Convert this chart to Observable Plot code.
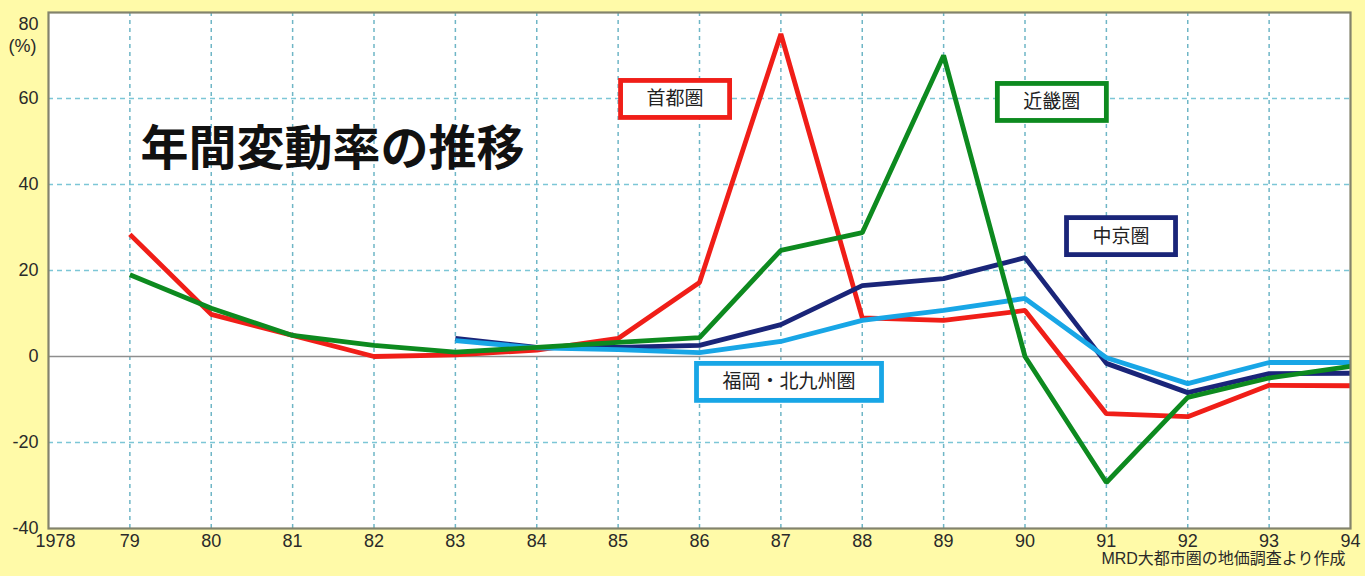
<!DOCTYPE html>
<html><head><meta charset="utf-8">
<script src="https://cdn.jsdelivr.net/npm/d3@7"></script>
<script src="https://cdn.jsdelivr.net/npm/@observablehq/plot@0.6"></script>
<style>
html,body{margin:0;padding:0;background:#fffaa8;}
#chart svg{display:block;}
</style></head><body><div id="chart"></div>
<script>
// ---- data ----
const years   = [1979,1980,1981,1982,1983,1984,1985,1986,1987,1988,1989,1990,1991,1992,1993,1994];
const shutoken = [28.4, 9.8, 4.9, 0.0, 0.4, 1.5, 4.2, 17.2, 75.0, 9.0, 8.4, 10.7, -13.3, -14.0, -6.7, -6.8];
const kinki    = [19.0, 11.2, 4.9, 2.6, 1.0, 2.1, 3.3, 4.4, 24.7, 28.8, 70.0, 0.0, -29.3, -9.5, -5.0, -2.3];
const chukyo   = [null, null, null, null, 4.2, 2.1, 2.1, 2.6, 7.4, 16.5, 18.1, 23.0, -1.6, -8.4, -4.0, -3.9];
const fukuoka  = [null, null, null, null, 3.7, 2.0, 1.6, 0.9, 3.5, 8.4, 10.7, 13.5, -0.3, -6.3, -1.4, -1.4];

const seriesNames  = ["首都圏", "近畿圏", "中京圏", "福岡・北九州圏"];
const seriesColors = ["#f01e18", "#0d8a1f", "#1a2579", "#18a6e6"];
// label box anchors (year, value) for each series
const labelYears  = [1985.70, 1990.33, 1991.18, 1987.10];
const labelValues = [59.8, 59.1, 27.9, -6.0];

const xTicks = [1979,1980,1981,1982,1983,1984,1985,1986,1987,1988,1989,1990,1991,1992,1993,1994];
const xFirstTick = 1978;
const xGrid  = [1979,1980,1981,1982,1983,1984,1985,1986,1987,1988,1989,1990,1991,1992,1993];
const yTicks = [-40,-20,0,20,40,60];
const yGrid  = [-20,20,40,60];
const title = "年間変動率の推移";
const caption = "MRD大都市圏の地価調査より作成";

const seriesValues = [shutoken, kinki, chukyo, fukuoka];
const rows = seriesValues.map(vals => years.map((yr, i) => ({year: yr, value: vals[i]})));
const labels = seriesNames.map((n, i) => ({name: n, x: labelYears[i], y: labelValues[i], color: seriesColors[i]}));
// drawing order: red, navy, light blue, green
const drawOrder = [0, 2, 3, 1];

const FONT = '"Liberation Sans", "Noto Sans CJK JP", sans-serif';
const INK = "#2a2a2a";

const plot = Plot.plot({
  width: 1365,
  height: 576,
  marginLeft: 48,
  marginRight: 15,
  marginTop: 12,
  marginBottom: 48,
  style: {background: "transparent", fontFamily: FONT, color: INK},
  x: {domain: [1978, 1994], axis: null},
  y: {domain: [-40, 80], axis: null},
  marks: [
    Plot.frame({fill: "white", stroke: "none"}),
    Plot.ruleX(xGrid, {stroke: "#6fb6c6", strokeWidth: 1.5, strokeDasharray: "4,4"}),
    Plot.ruleY(yGrid, {stroke: "#7cc6d6", strokeWidth: 1.5, strokeDasharray: "5,4"}),
    Plot.ruleY([0], {stroke: "#8e8e8e", strokeWidth: 1.5}),
    ...drawOrder.map(i => Plot.line(rows[i], {
      x: "year", y: "value", stroke: seriesColors[i], strokeWidth: 4.8,
      strokeLinejoin: "miter", strokeLinecap: "butt"
    })),
    Plot.frame({stroke: "#83836c", strokeWidth: 2.2}),
    // x tick labels
    Plot.text(xTicks, {x: d => d, frameAnchor: "bottom", dy: 18, fontSize: 18,
      text: d => String(d).slice(2), fill: INK}),
    Plot.text([xFirstTick], {x: d => d, frameAnchor: "bottom", dx: 7, dy: 18, fontSize: 18,
      text: d => String(d), fill: INK}),
    // y tick labels
    Plot.text(yTicks, {y: d => d, frameAnchor: "left", dx: -10, textAnchor: "end", fontSize: 18,
      text: d => String(d), fill: INK}),
    Plot.text(["80"], {frameAnchor: "top-left", dx: -10, dy: 5, textAnchor: "end", fontSize: 18, text: d => d, fill: INK}),
    Plot.text(["(%)"], {frameAnchor: "top-left", dx: -12, dy: 27, textAnchor: "end", fontSize: 18, text: d => d, fill: INK}),
    // title
    Plot.text([title], {frameAnchor: "top-left", dx: 92, dy: 118, textAnchor: "start", fontSize: 48,
      fontWeight: "bold", text: d => d, fill: "#111"}),
    // series labels
    Plot.text(labels, {x: "x", y: "y", text: "name", fontSize: 19, fill: "#222"}),
    // caption
    Plot.text([caption], {frameAnchor: "bottom-right", dx: -5, dy: 35, textAnchor: "end", fontSize: 16,
      text: d => d, fill: INK})
  ]
});

document.getElementById("chart").appendChild(plot);

// draw boxes around series labels
const groups = Array.from(plot.querySelectorAll("g"));
const g = groups.find(gr => {
  const ts = Array.from(gr.children).filter(c => c.tagName === "text");
  return ts.length === labels.length && ts[0].textContent === labels[0].name;
});
if (g) {
  const texts = Array.from(g.children).filter(c => c.tagName === "text");
  texts.forEach((t, i) => {
    const bb = t.getBBox();
    const cx = bb.x + bb.width / 2, cy = bb.y + bb.height / 2;
    const w = bb.width + 52, h = 37;
    const r = document.createElementNS("http://www.w3.org/2000/svg", "rect");
    r.setAttribute("x", cx - w / 2);
    r.setAttribute("y", cy - h / 2);
    r.setAttribute("width", w);
    r.setAttribute("height", h);
    r.setAttribute("fill", "white");
    r.setAttribute("stroke", labels[i].color);
    r.setAttribute("stroke-width", 4.8);
    const tr = t.getAttribute("transform");
    if (tr) r.setAttribute("transform", tr);
    g.insertBefore(r, t);
  });
}
</script></body></html>
